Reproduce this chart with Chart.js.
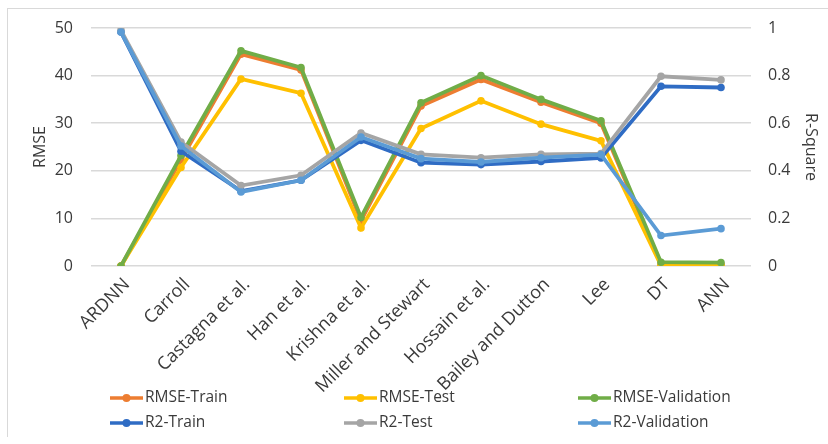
<!DOCTYPE html>
<html>
<head>
<meta charset="utf-8">
<script src="https://cdn.jsdelivr.net/npm/chart.js@4/dist/chart.umd.min.js"></script>
<style>
  html, body { margin: 0; padding: 0; background: #fff; }
  #wrap { position: relative; width: 828px; height: 444px; overflow: hidden; }
  #frame { position: absolute; left: 7px; top: 8px; right: -2px; bottom: 7px;
           border-top: 1px solid #d9d9d9; border-left: 1px solid #d9d9d9; }
  canvas { position: absolute; left: 0; top: 0; }
</style>
</head>
<body>
<div id="wrap">
  <div id="frame"></div>
  <canvas id="chart" width="828" height="444"></canvas>
</div>
<script>
const categories = ['ARDNN', 'Carroll', 'Castagna et al.', 'Han et al.', 'Krishna et al.',
  'Miller and Stewart', 'Hossain et al.', 'Bailey and Dutton', 'Lee', 'DT', 'ANN'];

const seriesNames = ['RMSE-Train', 'RMSE-Test', 'RMSE-Validation', 'R2-Train', 'R2-Test', 'R2-Validation'];

const rmseTrain = [0, 22.3, 44.5, 41.2, 9.5, 33.6, 39.2, 34.4, 30.0, 0.3, 0.3];
const rmseTest  = [0, 20.7, 39.3, 36.3, 8.0, 28.9, 34.7, 29.8, 26.3, 0.1, 0.1];
const rmseVal   = [0, 23.2, 45.2, 41.7, 10.2, 34.3, 40.0, 35.0, 30.5, 0.8, 0.7];

const r2Train = [0.983, 0.482, 0.315, 0.360, 0.528, 0.434, 0.426, 0.439, 0.454, 0.755, 0.750];
const r2Test  = [0.990, 0.521, 0.338, 0.381, 0.559, 0.469, 0.455, 0.469, 0.472, 0.797, 0.782];
const r2Val   = [0.983, 0.504, 0.311, 0.360, 0.542, 0.451, 0.437, 0.455, 0.468, 0.128, 0.157];

const rmseTicks = [0, 10, 20, 30, 40, 50];
const r2Ticks = [0, 0.2, 0.4, 0.6, 0.8, 1];

const colors = ['#ED7D31', '#FFC000', '#70AD47', '#2F6CC4', '#A5A5A5', '#5B9BD5'];
const seriesData = [rmseTrain, rmseTest, rmseVal, r2Train, r2Test, r2Val];
const seriesAxis = ['yL', 'yL', 'yL', 'yR', 'yR', 'yR'];

const FONT = '"Open Sans", "Liberation Sans", sans-serif';
const TEXT = '#3a3a3a';

const datasets = seriesNames.map((name, i) => ({
  label: name,
  data: seriesData[i],
  yAxisID: seriesAxis[i],
  borderColor: colors[i],
  backgroundColor: colors[i],
  borderWidth: 3.8,
  pointRadius: 3.8,
  pointBorderWidth: 0,
  pointBackgroundColor: colors[i],
  tension: 0,
  // later series sit on top of earlier ones
  order: seriesNames.length - i
}));

// Two-row, three-column legend under the plot
const legendLayout = { cols: [110, 344, 578], rows: [398, 423], line: 33 };
const gridLegend = {
  id: 'gridLegend',
  afterDraw(chart) {
    const ctx = chart.ctx;
    ctx.save();
    ctx.font = '15.5px ' + FONT;
    ctx.textBaseline = 'middle';
    ctx.textAlign = 'left';
    chart.data.datasets.forEach((ds, i) => {
      const x = legendLayout.cols[i % 3];
      const y = legendLayout.rows[Math.floor(i / 3)];
      ctx.strokeStyle = ds.borderColor;
      ctx.lineWidth = 3.5;
      ctx.beginPath();
      ctx.moveTo(x, y);
      ctx.lineTo(x + legendLayout.line, y);
      ctx.stroke();
      ctx.fillStyle = ds.borderColor;
      ctx.beginPath();
      ctx.arc(x + legendLayout.line / 2, y, 4, 0, Math.PI * 2);
      ctx.fill();
      ctx.fillStyle = TEXT;
      ctx.fillText(ds.label, x + legendLayout.line + 2, y);
    });
    ctx.restore();
  }
};

new Chart(document.getElementById('chart'), {
  type: 'line',
  data: { labels: categories, datasets },
  plugins: [gridLegend],
  options: {
    responsive: false,
    animation: false,
    devicePixelRatio: 1,
    layout: { padding: { top: 28, left: 0, right: 0, bottom: 0 } },
    plugins: { legend: { display: false }, tooltip: { enabled: false } },
    scales: {
      x: {
        offset: true,
        grid: { display: false, drawTicks: false },
        border: { display: false },
        ticks: {
          color: TEXT, font: { family: FONT, size: 18 },
          minRotation: 45, maxRotation: 45, autoSkip: false, padding: 8, labelOffset: 6
        },
        afterFit(scale) { scale.height = 178; }
      },
      yL: {
        position: 'left',
        min: 0, max: 50,
        afterBuildTicks(scale) { scale.ticks = rmseTicks.map(v => ({ value: v })); },
        grid: { color: '#D9D9D9', lineWidth: 1.5, drawTicks: false },
        border: { display: false },
        ticks: { color: TEXT, font: { family: FONT, size: 16 }, padding: 18 },
        title: { display: true, text: 'RMSE', color: TEXT, font: { family: FONT, size: 16 },
                 padding: { top: 31, bottom: 0 } },
        afterFit(scale) { scale.width = 91; }
      },
      yR: {
        position: 'right',
        min: 0, max: 1,
        afterBuildTicks(scale) { scale.ticks = r2Ticks.map(v => ({ value: v })); },
        grid: { display: false, drawTicks: false },
        border: { display: false },
        ticks: { color: TEXT, font: { family: FONT, size: 16 }, padding: 17,
                 callback: v => String(+v.toFixed(1)) },
        title: { display: true, text: 'R-Square', color: TEXT, font: { family: FONT, size: 16 },
                 padding: { top: 8, bottom: 0 } },
        afterFit(scale) { scale.width = 77; }
      }
    }
  }
});
</script>
</body>
</html>
